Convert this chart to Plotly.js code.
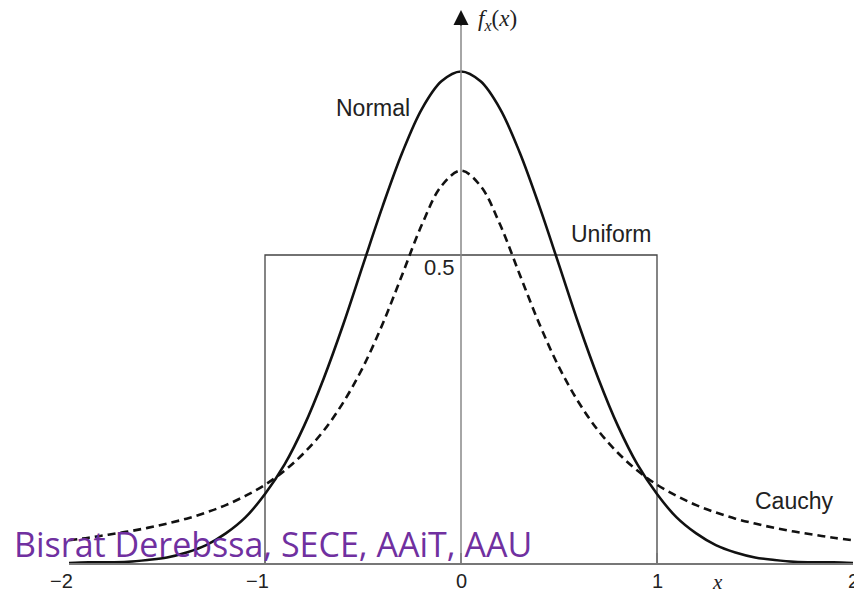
<!DOCTYPE html>
<html>
<head>
<meta charset="utf-8">
<script src="https://cdn.plot.ly/plotly-3.0.1.min.js"></script>
<style>html,body{margin:0;padding:0;background:#fff;}#chart{width:854px;height:589px;}</style>
</head>
<body>
<div id="chart"></div>
<script>
// Values (x in units, density f_x(x))
const xs = [-2.0,-1.9,-1.8,-1.7,-1.6,-1.5,-1.4,-1.3,-1.2,-1.1,-1.0,-0.9,-0.8,-0.7,-0.6,-0.5,-0.4,-0.3,-0.2,-0.1,0.0,
            0.1,0.2,0.3,0.4,0.5,0.6,0.7,0.8,0.9,1.0,1.1,1.2,1.3,1.4,1.5,1.6,1.7,1.8,1.9,2.0];
const normalY = [0.000,0.001,0.001,0.002,0.005,0.009,0.017,0.029,0.048,0.074,0.112,0.160,0.223,0.300,0.388,0.484,0.579,0.666,0.737,0.782,0.798,
                 0.782,0.737,0.666,0.579,0.484,0.388,0.300,0.223,0.160,0.112,0.074,0.048,0.029,0.017,0.009,0.005,0.002,0.001,0.001,0.000];
const cauchyY = [0.037,0.041,0.046,0.051,0.057,0.064,0.072,0.082,0.094,0.109,0.127,0.150,0.179,0.215,0.261,0.318,0.388,0.468,0.549,0.612,0.637,
                 0.612,0.549,0.468,0.388,0.318,0.261,0.215,0.179,0.150,0.127,0.109,0.094,0.082,0.072,0.064,0.057,0.051,0.046,0.041,0.037];
const uniformX = [-1,-1,1,1];
const uniformY = [0,0.5,0.5,0];
const tickVals = [-2,-1,0,1,2];
const tickText = ['\u22122','\u22121','0','1','2'];
const curveLabels = ['Normal','Uniform','Cauchy'];
const yTickLabel = '0.5';
const watermark = 'Bisrat Derebssa, SECE, AAiT, AAU';

const sans = 'Liberation Sans, Arial, sans-serif';
const serif = 'Liberation Serif, Times New Roman, serif';

const traces = [
  {x: uniformX, y: uniformY, type:'scatter', mode:'lines', line:{color:'#444', width:1.3}, hoverinfo:'skip'},
  {x: xs, y: cauchyY, type:'scatter', mode:'lines', line:{color:'#111', width:2.6, dash:'8px,5px', shape:'spline'}, hoverinfo:'skip'},
  {x: xs, y: normalY, type:'scatter', mode:'lines', line:{color:'#111', width:2.6, shape:'spline'}, hoverinfo:'skip'}
];

const annotations = [];
tickVals.forEach((v,i)=>{
  annotations.push({x:v, y:-0.0107, xref:'x', yref:'paper', text:tickText[i], showarrow:false,
    xanchor:'center', yanchor:'top', borderpad:0, xshift: v<0 ? -8 : 0, font:{family:sans, size:20, color:'#222'}});
});
annotations.push({x:-0.449, y:0.739, xref:'x', yref:'y', text:curveLabels[0], showarrow:false, font:{family:sans, size:23, color:'#222'}});
annotations.push({x:0.770, y:0.534, xref:'x', yref:'y', text:curveLabels[1], showarrow:false, font:{family:sans, size:23, color:'#222'}});
annotations.push({x:1.699, y:0.100, xref:'x', yref:'y', text:curveLabels[2], showarrow:false, font:{family:sans, size:23, color:'#222'}});
annotations.push({x:-0.02, y:0.48, xref:'x', yref:'y', text:yTickLabel, showarrow:false, xanchor:'right', font:{family:sans, size:22, color:'#222'}});
annotations.push({x:1.311, y:-0.0089, xref:'x', yref:'paper', text:'<i>x</i>', showarrow:false, yanchor:'top', font:{family:serif, size:21, color:'#222'}});
annotations.push({x:0.0765, y:0.881, xref:'x', yref:'y', text:'<i>f</i><sub><i>x</i></sub>(<i>x</i>)', showarrow:false, xanchor:'left', font:{family:serif, size:23, color:'#222'}});
// y axis arrow head
annotations.push({x:0, y:0.8977, ax:0, ay:0.87, xref:'x', yref:'y', axref:'x', ayref:'y', text:'', showarrow:true,
  arrowhead:2, arrowsize:2, arrowwidth:1.5, arrowcolor:'#111', standoff:0});
// watermark
annotations.push({x:-0.0727, y:0.0345, xref:'paper', yref:'paper', text:watermark, showarrow:false, xanchor:'left', yanchor:'middle',
  font:{family:'Open Sans, sans-serif', size:34, color:'#7030A0'}});

const layout = {
  width:854, height:589,
  margin:{l:69, r:1, t:0, b:26, pad:0},
  paper_bgcolor:'#fff', plot_bgcolor:'#fff',
  showlegend:false,
  xaxis:{range:[-2,2], showgrid:false, zeroline:false, showticklabels:false, tickvals:tickVals,
    showline:true, linecolor:'#777', linewidth:1.5, ticks:'inside', ticklen:10, tickcolor:'#777', tickwidth:1.2},
  yaxis:{range:[0,0.914], showgrid:false, zeroline:false, showticklabels:false, showline:false, ticks:''},
  shapes:[{type:'line', xref:'x', yref:'y', x0:0, x1:0, y0:0, y1:0.875, line:{color:'#888', width:1.5}}],
  annotations: annotations
};

Plotly.newPlot('chart', traces, layout, {staticPlot:true, displayModeBar:false});
</script>
</body>
</html>
